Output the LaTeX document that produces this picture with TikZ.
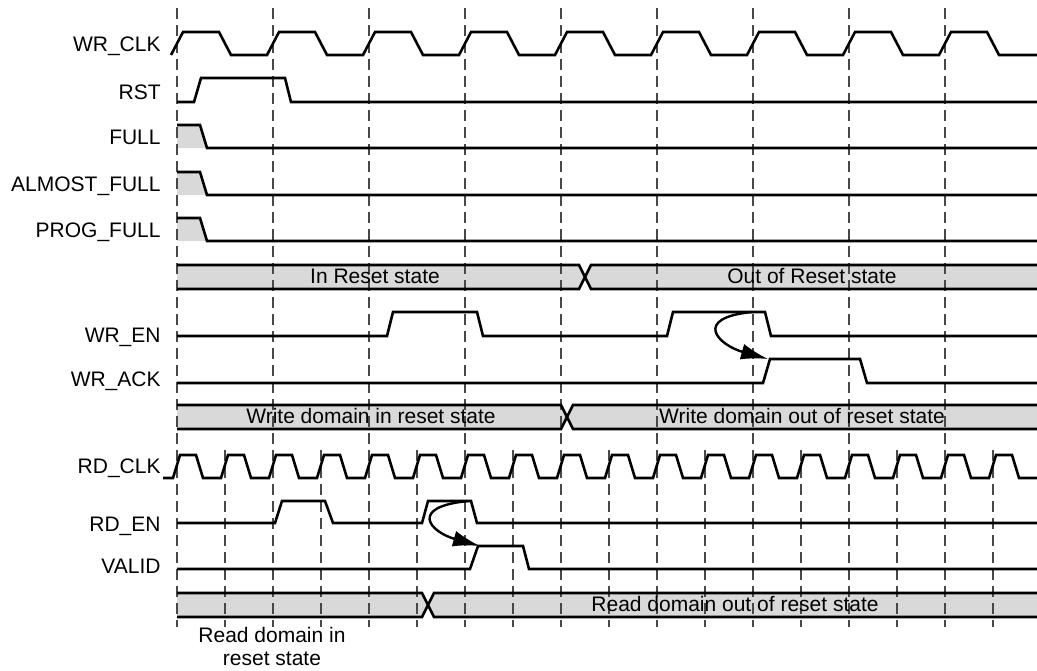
\documentclass[tikz,border=0pt]{standalone}
\usepackage{fontspec}
\setmainfont{Liberation Sans}
\usepackage{tikz}
\usetikzlibrary{arrows.meta,positioning,calc}
\definecolor{busgray}{RGB}{217,217,217}
\definecolor{dashgray}{RGB}{72,72,72}

\begin{document}
\begin{tikzpicture}[
  x=0.5pt, y=-0.5pt,
  wave/.style={line width=1.3pt, black, line join=miter},
  tick/.style={dashgray, line width=0.85pt, dash pattern=on 5.5pt off 3pt},
  signame/.style={anchor=base east, inner sep=0pt, font=\fontsize{10.5}{12}\selectfont},
  buslabel/.style={anchor=base, inner sep=0pt, font=\fontsize{10.5}{11.5}\selectfont},
  cause/.style={-{Latex[length=13.5pt,width=8pt]}, line width=1.2pt}
]
  \useasboundingbox (0,0) rectangle (1037,670);

  \foreach \top/\xc in {265/585, 405/567, 593/428} {
    \fill[busgray] (177,\top) -- (\xc-6,\top) -- (\xc,\top+12) -- (\xc-6,\top+24) -- (177,\top+24) -- cycle;
    \fill[busgray] (1037,\top) -- (\xc+6,\top) -- (\xc,\top+12) -- (\xc+6,\top+24) -- (1037,\top+24) -- cycle;
  }
  \foreach \top in {125,172,218}
    \fill[busgray] (177,\top) -- (200,\top) -- (207,\top+23) -- (177,\top+23) -- cycle;

  \foreach \x in {177,273,...,945}
    \draw[tick] (\x,8) -- (\x,627);
  \foreach \x in {225,321,...,993}
    \draw[tick] (\x,450) -- (\x,627);

  \draw[wave] (171,55) \foreach \t in {177,273,...,945} { -- (\t+6,32) -- (\t+42,32) -- (\t+54,55) -- (\t+90,55) } -- (1037,55);
  \draw[wave] (177,102) -- (194,102) -- (201,78) -- (285,78) -- (291,102) -- (1037,102);
  \foreach \top in {125,172,218}
    \draw[wave] (177,\top) -- (200,\top) -- (207,\top+23) -- (1037,\top+23);

  \draw[wave] (177,336) -- (387,336) -- (393,312) -- (477,312) -- (483,336) -- (667,336) -- (673,312) -- (765,312) -- (771,336) -- (1037,336);
  \draw[wave] (177,383) -- (763,383) -- (770,359) -- (860,359) -- (867,383) -- (1037,383);

  \draw[wave] (163,478) \foreach \t in {177,225,...,993} { -- (\t-4,478) -- (\t+3,455) -- (\t+19,455) -- (\t+26,478) } -- (1037,478);
  \draw[wave] (177,523) -- (275,523) -- (282,501) -- (325,501) -- (333,523) -- (422,523) -- (428,501) -- (471,501) -- (477,523) -- (1037,523);
  \draw[wave] (177,569) -- (470,569) -- (478,546) -- (523,546) -- (529,569) -- (1037,569);

  \foreach \top/\xc in {265/585, 405/567, 593/428} {
    \draw[wave] (177,\top) -- (\xc-6,\top) -- (\xc+6,\top+24) -- (1037,\top+24);
    \draw[wave] (177,\top+24) -- (\xc-6,\top+24) -- (\xc+6,\top) -- (1037,\top);
  }

  \coordinate (wen-hold) at (752,312);
  \coordinate (wack-rise) at (768,359);
  \draw[cause] (wen-hold) .. controls +(-60,6) and +(-50,-14) .. (wack-rise);
  \coordinate (ren-hold) at (468,501);
  \coordinate (valid-rise) at (480,546);
  \draw[cause] (ren-hold) .. controls +(-60,6) and +(-50,-14) .. (valid-rise);

  \node[signame] (wrclk) at (161,51)  {WR\_CLK};
  \node[signame] (rst)   at (161,99)  {RST};
  \node[signame] (full)  at (161,144) {FULL};
  \node[signame] (afull) at (161,191) {ALMOST\_FULL};
  \node[signame] (pfull) at (161,237) {PROG\_FULL};
  \node[signame] (wren)  at (161,342) {WR\_EN};
  \node[signame] (wrack) at (161,386) {WR\_ACK};
  \node[signame] (rdclk) at (161,473) {RD\_CLK};
  \node[signame] (rden)  at (161,531) {RD\_EN};
  \node[signame] (valid) at (161,573) {VALID};

  \node[buslabel] (wrst-in)  at (375,283) {In Reset state};
  \node[buslabel] (wrst-out) at (812,283) {Out of Reset state};
  \node[buslabel] (wdom-in)  at (371,423) {Write domain in reset state};
  \node[buslabel] (wdom-out) at (802,423) {Write domain out of reset state};
  \node[buslabel] (rdom-out) at (735,611) {Read domain out of reset state};
  \node[buslabel, align=center] (rdom-in) at (272,665) {Read domain in\\reset state};
\end{tikzpicture}
\end{document}
